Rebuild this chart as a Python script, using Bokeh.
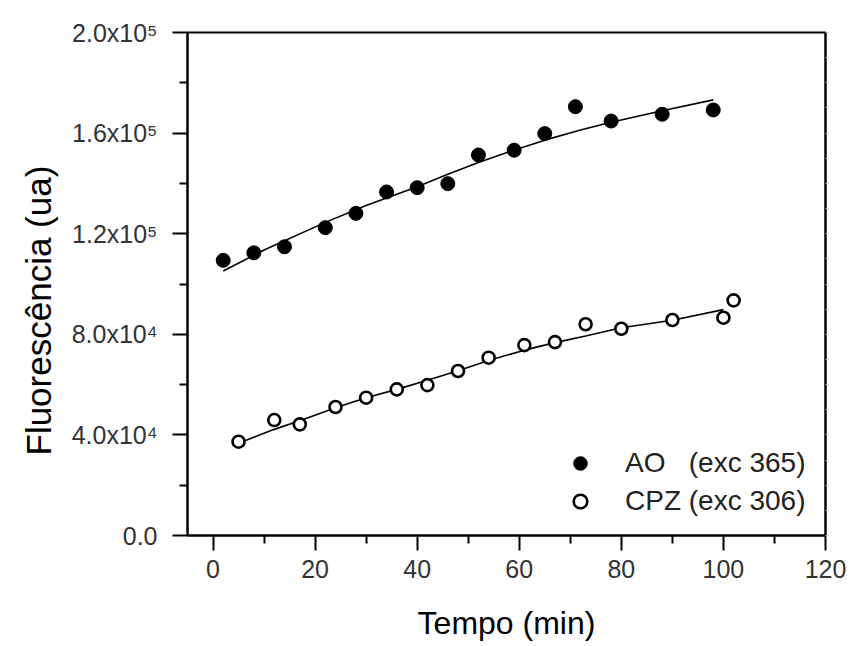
from bokeh.plotting import figure
from bokeh.models import Range1d, FixedTicker, LinearAxis, Legend, LegendItem, Title
from bokeh.embed import file_html
from bokeh.resources import INLINE

# ---- data ----
ao_t = [2, 8, 14, 22, 28, 34, 40, 46, 52, 59, 65, 71, 78, 88, 98]
ao_f = [109400, 112400, 114800, 122400, 128100, 136600, 138300, 139900,
        151300, 153200, 159800, 170500, 164800, 167500, 169200]

cpz_t = [5, 12, 17, 24, 30, 36, 42, 48, 54, 61, 67, 73, 80, 90, 100, 102]
cpz_f = [37300, 45900, 44200, 51100, 54800, 58100, 59800, 65400, 70700,
         75700, 76900, 84000, 82200, 85700, 86600, 93500]

ao_fit_t = [2, 10, 22, 30, 40, 46, 52, 58, 65, 72, 78, 88, 98]
ao_fit_f = [105200, 113500, 124500, 131200, 138700, 143600, 148300, 152600,
            157200, 161200, 164300, 168900, 173200]

cpz_fit_t = [5, 12, 17, 24, 30, 36, 42, 48, 54, 61, 67, 73, 80, 90, 100]
cpz_fit_f = [36700, 42200, 45600, 50800, 54800, 58100, 61700, 65500, 69600,
             73700, 76700, 79300, 82600, 85600, 89800]

x_ticks = [0, 20, 40, 60, 80, 100, 120]
x_minor = [10, 30, 50, 70, 90, 110]
y_ticks = [0, 40000, 80000, 120000, 160000, 200000]
y_minor = [20000, 60000, 100000, 140000, 180000]
y_tick_labels = ["0.0", "4.0x10\u2074", "8.0x10\u2074", "1.2x10\u2075",
                 "1.6x10\u2075", "2.0x10\u2075"]

legend_labels = ["AO\u00a0\u00a0\u00a0(exc 365)", "CPZ (exc 306)"]
x_title = "Tempo (min)"
y_title = "Fluoresc\u00eancia (ua)"

FONT = "Liberation Sans"

p = figure(width=850, height=646, output_backend="svg", toolbar_location=None,
           x_range=Range1d(-5, 120), y_range=Range1d(0, 200000),
           min_border_left=187, min_border_right=25, min_border_top=32,
           min_border_bottom=111)
p.background_fill_color = "white"
p.border_fill_color = "white"
p.xgrid.visible = False
p.ygrid.visible = False
p.outline_line_color = "black"
p.outline_line_width = 2

# fit lines
p.line(ao_fit_t, ao_fit_f, line_color="black", line_width=1.6)
p.line(cpz_fit_t, cpz_fit_f, line_color="black", line_width=1.6)

# points
r_ao = p.scatter(ao_t, ao_f, marker="circle", size=14, fill_color="black",
                 line_color="black", line_width=1)
r_cpz = p.scatter(cpz_t, cpz_f, marker="circle", size=12, fill_color="white",
                  line_color="black", line_width=2.6)

xa = p.xaxis[0]
xa.ticker = FixedTicker(ticks=x_ticks, minor_ticks=x_minor)
ya = p.yaxis[0]
ya.ticker = FixedTicker(ticks=y_ticks, minor_ticks=y_minor)
ya.major_label_overrides = {v: s for v, s in zip(y_ticks, y_tick_labels)}

for ax in (xa, ya):
    ax.axis_line_width = 2
    ax.axis_line_color = "black"
    ax.major_tick_out = 15
    ax.major_tick_in = 0
    ax.minor_tick_out = 8
    ax.minor_tick_in = 0
    ax.major_tick_line_width = 2
    ax.minor_tick_line_width = 2
    ax.major_label_text_font = FONT
    ax.major_label_text_font_size = "25px"
    ax.major_label_text_color = "#333333"
    ax.axis_label_text_font = FONT
    ax.axis_label_text_font_style = "normal"
    ax.axis_label_text_color = "black"

xa.major_label_standoff = 9
xa.axis_label = x_title
xa.axis_label_text_font_size = "32px"
xa.axis_label_standoff = 24
ya.major_label_standoff = 15

# right axis with tiny outward ticks, no labels
ra = LinearAxis(ticker=FixedTicker(ticks=[10000 * k for k in range(0, 21)]),
                major_label_overrides={10000 * k: "" for k in range(0, 21)},
                axis_line_width=2, major_tick_out=3, major_tick_in=0,
                minor_tick_out=0, minor_tick_in=0, major_tick_line_color="#bbbbbb",
                major_label_text_font_size="8px", major_label_standoff=0)
p.add_layout(ra, "right")

# y title
yt = Title(text=y_title, align="left", vertical_align="top", offset=80,
           standoff=17, text_font=FONT, text_font_size="35px",
           text_font_style="normal", text_color="black")
p.add_layout(yt, "left")

# legend
legend = Legend(items=[LegendItem(label=legend_labels[0], renderers=[r_ao]),
                       LegendItem(label=legend_labels[1], renderers=[r_cpz])],
                location=(376, 15), orientation="vertical",
                padding=0, margin=0, spacing=0,
                glyph_width=34, glyph_height=38, label_height=38,
                label_standoff=28, border_line_color=None,
                background_fill_alpha=0,
                label_text_font=FONT, label_text_font_size="28px",
                label_text_color="#222222")
p.add_layout(legend)

open("out.html", "w").write(file_html(p, INLINE))
